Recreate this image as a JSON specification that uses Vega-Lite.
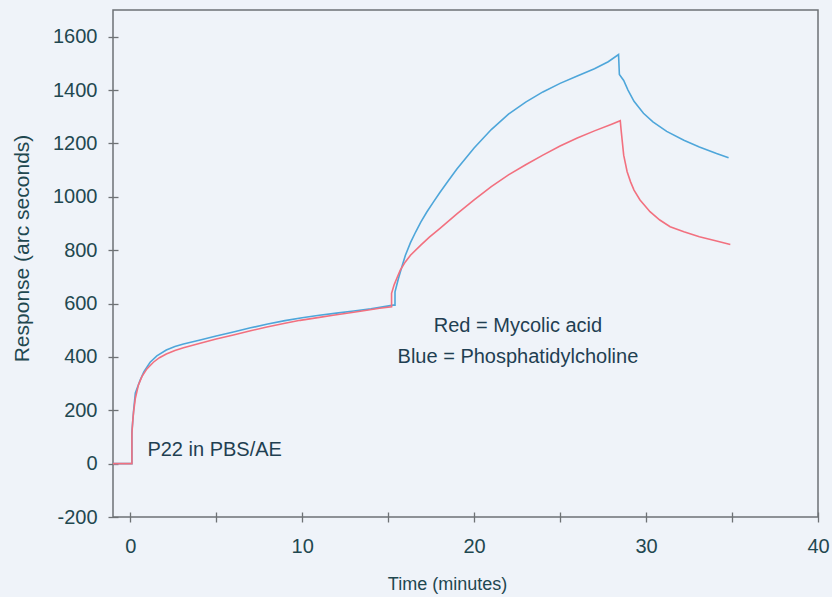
{
  "$schema": "https://vega.github.io/schema/vega-lite/v6.json",
  "width": 705,
  "height": 507,
  "autosize": {"type": "none"},
  "padding": {"left": 113, "top": 10, "right": 14, "bottom": 80},
  "background": "#eff3f9",
  "config": {
    "font": "Liberation Sans",
    "view": {"stroke": "#6e7275", "strokeWidth": 1.5, "fill": "#eff3f9"},
    "axis": {
      "domain": false,
      "grid": false,
      "offset": -5,
      "tickSize": 10,
      "tickColor": "#6e7275",
      "tickWidth": 1.3,
      "labelFont": "Liberation Sans",
      "labelFontSize": 20,
      "labelColor": "#1f4850",
      "titleFont": "Liberation Sans",
      "titleColor": "#1f4850",
      "titleFontWeight": "normal"
    }
  },
  "datasets": {
    "curves": [
      {"s": "Blue", "i": 1, "t": -1, "v": 0},
      {"s": "Blue", "i": 2, "t": 0.1, "v": 0},
      {"s": "Blue", "i": 3, "t": 0.1, "v": 120},
      {"s": "Blue", "i": 4, "t": 0.2, "v": 200},
      {"s": "Blue", "i": 5, "t": 0.3, "v": 265},
      {"s": "Blue", "i": 6, "t": 0.58, "v": 313},
      {"s": "Blue", "i": 7, "t": 0.8, "v": 345},
      {"s": "Blue", "i": 8, "t": 1.16, "v": 380},
      {"s": "Blue", "i": 9, "t": 1.55, "v": 404},
      {"s": "Blue", "i": 10, "t": 2.1, "v": 426},
      {"s": "Blue", "i": 11, "t": 2.6, "v": 439},
      {"s": "Blue", "i": 12, "t": 3.1, "v": 448},
      {"s": "Blue", "i": 13, "t": 4.07, "v": 463},
      {"s": "Blue", "i": 14, "t": 5, "v": 478},
      {"s": "Blue", "i": 15, "t": 6, "v": 493},
      {"s": "Blue", "i": 16, "t": 7, "v": 509},
      {"s": "Blue", "i": 17, "t": 8, "v": 523},
      {"s": "Blue", "i": 18, "t": 9, "v": 536},
      {"s": "Blue", "i": 19, "t": 10, "v": 547},
      {"s": "Blue", "i": 20, "t": 11, "v": 556},
      {"s": "Blue", "i": 21, "t": 12, "v": 564},
      {"s": "Blue", "i": 22, "t": 13, "v": 572},
      {"s": "Blue", "i": 23, "t": 14, "v": 580},
      {"s": "Blue", "i": 24, "t": 15.3, "v": 594},
      {"s": "Blue", "i": 25, "t": 15.4, "v": 594},
      {"s": "Blue", "i": 26, "t": 15.4, "v": 644},
      {"s": "Blue", "i": 27, "t": 15.6, "v": 694},
      {"s": "Blue", "i": 28, "t": 15.8, "v": 738},
      {"s": "Blue", "i": 29, "t": 16.0, "v": 780},
      {"s": "Blue", "i": 30, "t": 16.3, "v": 828},
      {"s": "Blue", "i": 31, "t": 16.6, "v": 868},
      {"s": "Blue", "i": 32, "t": 16.9, "v": 905},
      {"s": "Blue", "i": 33, "t": 17.25, "v": 943},
      {"s": "Blue", "i": 34, "t": 17.64, "v": 981},
      {"s": "Blue", "i": 35, "t": 18.0, "v": 1015},
      {"s": "Blue", "i": 36, "t": 18.5, "v": 1060},
      {"s": "Blue", "i": 37, "t": 19.0, "v": 1104},
      {"s": "Blue", "i": 38, "t": 20.0, "v": 1183},
      {"s": "Blue", "i": 39, "t": 21.0, "v": 1252},
      {"s": "Blue", "i": 40, "t": 22.0, "v": 1310},
      {"s": "Blue", "i": 41, "t": 23.0, "v": 1355},
      {"s": "Blue", "i": 42, "t": 24.0, "v": 1393},
      {"s": "Blue", "i": 43, "t": 25.0, "v": 1425},
      {"s": "Blue", "i": 44, "t": 26.0, "v": 1453},
      {"s": "Blue", "i": 45, "t": 27.0, "v": 1480},
      {"s": "Blue", "i": 46, "t": 27.8, "v": 1506},
      {"s": "Blue", "i": 47, "t": 28.4, "v": 1533},
      {"s": "Blue", "i": 48, "t": 28.45, "v": 1458},
      {"s": "Blue", "i": 49, "t": 28.7, "v": 1436},
      {"s": "Blue", "i": 50, "t": 28.95, "v": 1400},
      {"s": "Blue", "i": 51, "t": 29.3, "v": 1358},
      {"s": "Blue", "i": 52, "t": 29.85, "v": 1313},
      {"s": "Blue", "i": 53, "t": 30.4, "v": 1281},
      {"s": "Blue", "i": 54, "t": 31.2, "v": 1245},
      {"s": "Blue", "i": 55, "t": 32.2, "v": 1212},
      {"s": "Blue", "i": 56, "t": 33.1, "v": 1187},
      {"s": "Blue", "i": 57, "t": 34.1, "v": 1162},
      {"s": "Blue", "i": 58, "t": 34.8, "v": 1146},
      {"s": "Red", "i": 101, "t": -1, "v": 0},
      {"s": "Red", "i": 102, "t": 0.1, "v": 0},
      {"s": "Red", "i": 103, "t": 0.1, "v": 113},
      {"s": "Red", "i": 104, "t": 0.15, "v": 160},
      {"s": "Red", "i": 105, "t": 0.2, "v": 195},
      {"s": "Red", "i": 106, "t": 0.3, "v": 245},
      {"s": "Red", "i": 107, "t": 0.48, "v": 295},
      {"s": "Red", "i": 108, "t": 0.68, "v": 326},
      {"s": "Red", "i": 109, "t": 0.97, "v": 355},
      {"s": "Red", "i": 110, "t": 1.35, "v": 380},
      {"s": "Red", "i": 111, "t": 1.7, "v": 397},
      {"s": "Red", "i": 112, "t": 2.1, "v": 411},
      {"s": "Red", "i": 113, "t": 2.6, "v": 424},
      {"s": "Red", "i": 114, "t": 3.1, "v": 434},
      {"s": "Red", "i": 115, "t": 4.07, "v": 451},
      {"s": "Red", "i": 116, "t": 5, "v": 467},
      {"s": "Red", "i": 117, "t": 6, "v": 482},
      {"s": "Red", "i": 118, "t": 7, "v": 498},
      {"s": "Red", "i": 119, "t": 7.95, "v": 512},
      {"s": "Red", "i": 120, "t": 9, "v": 526},
      {"s": "Red", "i": 121, "t": 9.88, "v": 537},
      {"s": "Red", "i": 122, "t": 11, "v": 548},
      {"s": "Red", "i": 123, "t": 11.8, "v": 556},
      {"s": "Red", "i": 124, "t": 13, "v": 567},
      {"s": "Red", "i": 125, "t": 13.76, "v": 575},
      {"s": "Red", "i": 126, "t": 14.5, "v": 582},
      {"s": "Red", "i": 127, "t": 15.2, "v": 588},
      {"s": "Red", "i": 128, "t": 15.2, "v": 638},
      {"s": "Red", "i": 129, "t": 15.35, "v": 670},
      {"s": "Red", "i": 130, "t": 15.5, "v": 694},
      {"s": "Red", "i": 131, "t": 15.7, "v": 724},
      {"s": "Red", "i": 132, "t": 16.0, "v": 756},
      {"s": "Red", "i": 133, "t": 16.3, "v": 781},
      {"s": "Red", "i": 134, "t": 16.9, "v": 819},
      {"s": "Red", "i": 135, "t": 17.4, "v": 849},
      {"s": "Red", "i": 136, "t": 18.0, "v": 881},
      {"s": "Red", "i": 137, "t": 19.0, "v": 936},
      {"s": "Red", "i": 138, "t": 20.0, "v": 988},
      {"s": "Red", "i": 139, "t": 21.0, "v": 1038},
      {"s": "Red", "i": 140, "t": 22.0, "v": 1082},
      {"s": "Red", "i": 141, "t": 23.0, "v": 1120},
      {"s": "Red", "i": 142, "t": 24.0, "v": 1156},
      {"s": "Red", "i": 143, "t": 25.0, "v": 1190},
      {"s": "Red", "i": 144, "t": 26.0, "v": 1220},
      {"s": "Red", "i": 145, "t": 27.0, "v": 1247},
      {"s": "Red", "i": 146, "t": 28.0, "v": 1272},
      {"s": "Red", "i": 147, "t": 28.5, "v": 1285},
      {"s": "Red", "i": 148, "t": 28.55, "v": 1250},
      {"s": "Red", "i": 149, "t": 28.7, "v": 1156},
      {"s": "Red", "i": 150, "t": 28.9, "v": 1094},
      {"s": "Red", "i": 151, "t": 29.1, "v": 1056},
      {"s": "Red", "i": 152, "t": 29.3, "v": 1025},
      {"s": "Red", "i": 153, "t": 29.65, "v": 988},
      {"s": "Red", "i": 154, "t": 30.23, "v": 944},
      {"s": "Red", "i": 155, "t": 30.8, "v": 913},
      {"s": "Red", "i": 156, "t": 31.4, "v": 888},
      {"s": "Red", "i": 157, "t": 32.2, "v": 869},
      {"s": "Red", "i": 158, "t": 33.1, "v": 850},
      {"s": "Red", "i": 159, "t": 34.1, "v": 834},
      {"s": "Red", "i": 160, "t": 34.9, "v": 821}
    ],
    "notes": [
      {"t": 22.55, "v": 494, "label": "Red = Mycolic acid"},
      {"t": 22.55, "v": 376, "label": "Blue = Phosphatidylcholine"}
    ],
    "note2": [
      {"t": 1.0, "v": 30, "label": "P22 in PBS/AE"}
    ]
  },
  "layer": [
    {
      "data": {"name": "curves"},
      "mark": {"type": "line", "strokeWidth": 1.6, "interpolate": "linear"},
      "encoding": {
        "x": {
          "field": "t",
          "type": "quantitative",
          "scale": {"domain": [-1, 40], "nice": false, "zero": false},
          "axis": {
            "title": "Time (minutes)",
            "titleFontSize": 18,
            "titleX": 334,
            "titleY": 77,
            "titleBaseline": "alphabetic",
            "titleAnchor": null,
            "values": [0, 5, 10, 15, 20, 25, 30, 35, 40],
            "labelExpr": "datum.value % 10 === 0 ? toString(datum.value) : ''",
            "labelPadding": 14,
            "labelFlush": false
          }
        },
        "y": {
          "field": "v",
          "type": "quantitative",
          "scale": {"domain": [-200, 1700], "nice": false, "zero": false},
          "axis": {
            "title": "Response (arc seconds)",
            "titleFontSize": 21,
            "titleX": -90,
            "titleY": 238,
            "titleBaseline": "alphabetic",
            "titleAnchor": null,
            "values": [-200, -100, 0, 100, 200, 300, 400, 500, 600, 700, 800, 900, 1000, 1100, 1200, 1300, 1400, 1500, 1600],
            "labelExpr": "datum.value % 200 === 0 ? toString(datum.value) : ''",
            "labelPadding": 11,
            "labelFlush": false
          }
        },
        "color": {
          "field": "s",
          "type": "nominal",
          "scale": {"domain": ["Blue", "Red"], "range": ["#4ea6da", "#f2707f"]},
          "legend": null
        },
        "order": {"field": "i", "type": "quantitative"}
      }
    },
    {
      "data": {"name": "notes"},
      "mark": {"type": "text", "fontSize": 20, "font": "Liberation Sans", "color": "#1f3f52", "baseline": "alphabetic", "align": "center"},
      "encoding": {
        "x": {"field": "t", "type": "quantitative"},
        "y": {"field": "v", "type": "quantitative"},
        "text": {"field": "label"}
      }
    },
    {
      "data": {"name": "note2"},
      "mark": {"type": "text", "fontSize": 20, "font": "Liberation Sans", "color": "#1f3f52", "baseline": "alphabetic", "align": "left"},
      "encoding": {
        "x": {"field": "t", "type": "quantitative"},
        "y": {"field": "v", "type": "quantitative"},
        "text": {"field": "label"}
      }
    }
  ]
}
